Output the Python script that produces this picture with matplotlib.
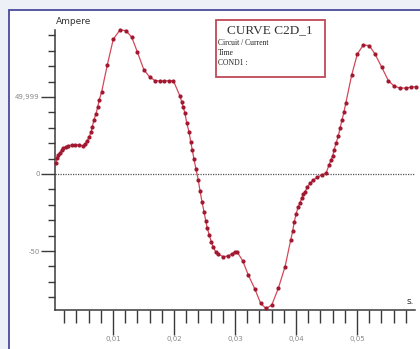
import numpy as np
import matplotlib
matplotlib.use("Agg")
from matplotlib import pyplot as plt
from matplotlib.patches import Rectangle

# time (s) and current (A)
t = [0.00066, 0.00077, 0.00103, 0.00131, 0.00159, 0.00185, 0.00225, 0.00267,
     0.00323, 0.00377, 0.00448, 0.00513, 0.00546, 0.00579, 0.00611, 0.00644,
     0.00661, 0.00689, 0.00721, 0.00749, 0.00775, 0.00815, 0.00907, 0.01005,
     0.01115, 0.01213, 0.01307, 0.01398, 0.01508, 0.01607, 0.01689, 0.01770,
     0.01836, 0.01918, 0.01989, 0.02098, 0.02126, 0.02152, 0.02180, 0.02208,
     0.02246, 0.02274, 0.02300, 0.02328, 0.02361, 0.02398, 0.02426, 0.02459,
     0.02492, 0.02520, 0.02546, 0.02579, 0.02611, 0.02644, 0.02684, 0.02726,
     0.02808, 0.02890, 0.02946, 0.03000, 0.03038, 0.03126, 0.03218, 0.03328,
     0.03421, 0.03508, 0.03602, 0.03710, 0.03820, 0.03913, 0.03946, 0.03972,
     0.04000, 0.04038, 0.04066, 0.04093, 0.04120, 0.04148, 0.04185, 0.04230,
     0.04284, 0.04349, 0.04421, 0.04492, 0.04541, 0.04574, 0.04602, 0.04623,
     0.04656, 0.04693, 0.04721, 0.04754, 0.04787, 0.04815, 0.04913, 0.05005,
     0.05103, 0.05202, 0.05295, 0.05405, 0.05513, 0.05607, 0.05705, 0.05803,
     0.05880, 0.05967]
amp = [6.9, 10.4, 12.3, 13.8, 15.6, 16.7, 17.7, 18.4,
       18.8, 18.8, 18.8, 18.4, 19.5, 21.6, 24.2, 27.5,
       30.7, 35.1, 39.0, 43.3, 48.1, 53.4, 70.8, 87.5,
       93.5, 93.1, 88.8, 79.4, 67.5, 62.8, 60.6, 60.4,
       60.4, 60.6, 60.6, 50.6, 46.9, 43.3, 39.4, 33.3,
       27.5, 21.0, 15.6, 9.5, 3.1, -3.9, -10.8, -18.0,
       -24.5, -30.3, -35.3, -39.6, -44.0, -47.6, -50.5, -52.1,
       -53.7, -53.2, -51.9, -50.5, -50.8, -56.3, -65.6, -74.9,
       -84.0, -87.3, -85.1, -74.2, -60.2, -42.9, -36.8, -31.0,
       -26.0, -21.2, -18.6, -15.8, -13.2, -11.5, -8.6, -6.0,
       -3.9, -2.1, -0.6, 0.5, 5.8, 9.1, 11.7, 15.6,
       19.9, 24.7, 29.7, 35.1, 40.5, 45.9, 64.3, 77.9,
       83.8, 83.3, 77.9, 69.3, 60.6, 57.1, 55.8, 55.8,
       56.3, 56.7]

yticks = [-50, 0, 49.999]
ylabels = ["-50", "0", "49,999"]
xticks = [0.01, 0.02, 0.03, 0.04, 0.05]
xlabels = ["0,01", "0,02", "0,03", "0,04", "0,05"]

fig = plt.figure(figsize=(4.2, 3.49), dpi=100, facecolor="#eef0f7")
W, H = 420, 349

# white panel with blue frame
fig.patches.append(Rectangle((9 / W, -0.05), 1.1, 1 - 10 / H + 0.05,
                             transform=fig.transFigure, facecolor="white",
                             edgecolor="#4a4a9c", lw=1.3, zorder=-10))

ax = fig.add_axes([55 / W, 39 / H, 360 / W, 280.5 / H])
ax.set_facecolor("none")
ax.set_zorder(1)
ax.set_xlim(0.0005, 0.0595)
ax.set_ylim(-88.3, 93.8)

ax.plot(t, amp, color="#d4485a", lw=0.9, marker="o", ms=2.0,
        mfc="#a01830", mec="#a01830", clip_on=False, zorder=3)
ax.axhline(0, color="#555555", lw=0.9, ls=(0, (1, 1)), zorder=2)

for s in ["top", "right"]:
    ax.spines[s].set_visible(False)
for s in ["left", "bottom"]:
    ax.spines[s].set_color("#3a3a3a")
    ax.spines[s].set_linewidth(1.1)

ax.set_yticks(yticks)
ax.set_yticklabels(ylabels)
ax.set_yticks(np.arange(-80, 91, 10), minor=True)
ax.set_xticks(xticks)
ax.set_xticklabels(xlabels)
ax.set_xticks(np.arange(0.002, 0.0585, 0.002), minor=True)
ax.tick_params(axis="y", which="major", length=10, width=1.0, color="#3a3a3a",
               labelsize=5, labelcolor="#888888", pad=1)
ax.tick_params(axis="y", which="minor", length=5, width=1.0, color="#3a3a3a")
ax.tick_params(axis="x", which="major", length=18, width=1.0, color="#3a3a3a",
               labelsize=5, labelcolor="#888888", pad=1)
ax.tick_params(axis="x", which="minor", length=9.5, width=1.0, color="#3a3a3a")

fig.text(56 / W, 1 - 22 / H, "Ampere", fontsize=6.5, color="#333333",
         ha="left", va="center")
fig.text(410 / W, 1 - 302 / H, "s.", fontsize=6.5, color="#333333",
         ha="center", va="center")

# curve info box
fig.patches.append(Rectangle((216 / W, 1 - 77 / H), 109 / W, 57 / H,
                             transform=fig.transFigure, facecolor="white",
                             edgecolor="#c04858", lw=1.3, zorder=4))
fig.text(270 / W, 1 - 30 / H, "CURVE C2D_1", fontsize=9.5, family="Liberation Serif",
         color="#333333", ha="center", va="center", zorder=5)
for i, line in enumerate(["Circuit / Current", "Time", "COND1 :"]):
    fig.text(218 / W, 1 - (43 + 10 * i) / H, line, fontsize=5.5,
             family="Liberation Serif", color="#222222", ha="left", va="center",
             zorder=5)

fig.savefig("out.png", dpi=100, facecolor=fig.get_facecolor())
